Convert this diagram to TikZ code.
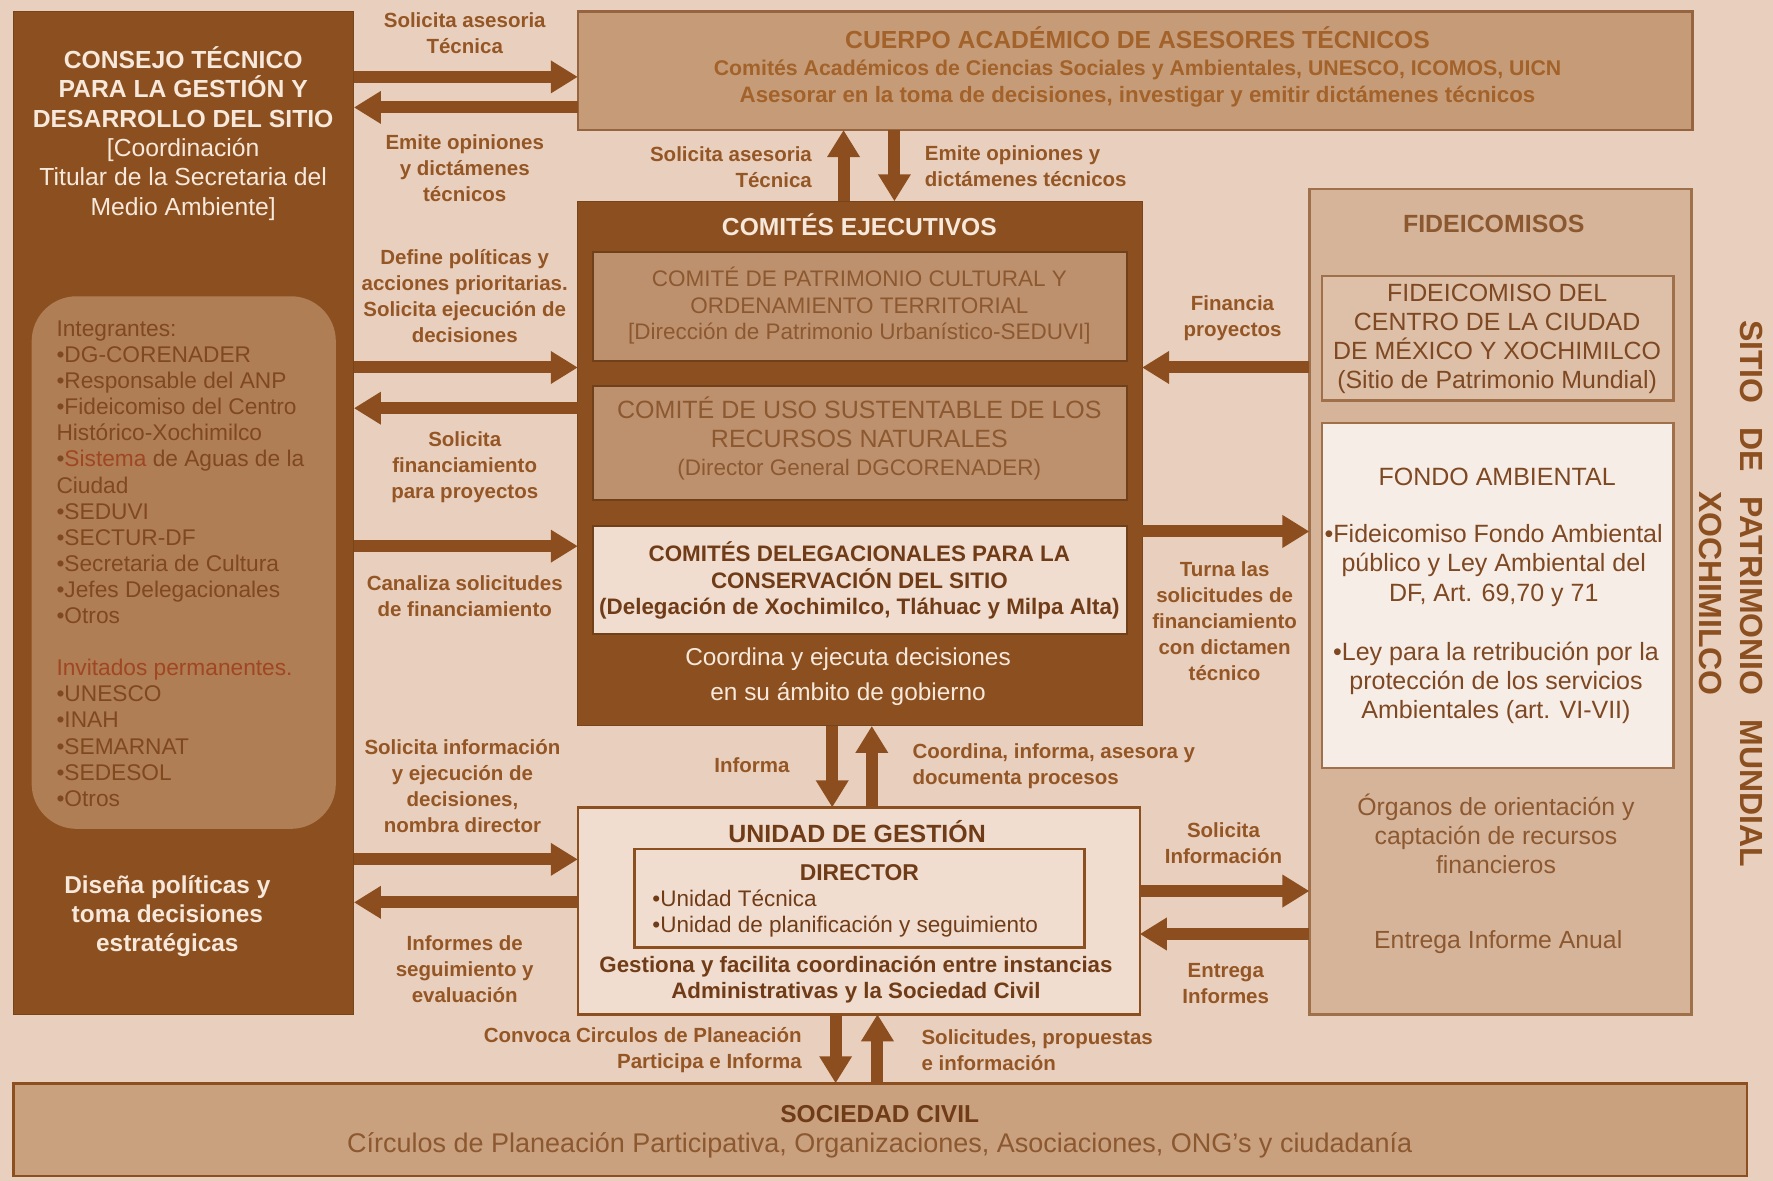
\documentclass[tikz,border=0pt]{standalone}
\usepackage{fontspec}
\setmainfont{Liberation Sans}
\usetikzlibrary{arrows.meta,fit}
\definecolor{bgc}{RGB}{233,207,190}
\definecolor{dark}{RGB}{140,80,32}
\definecolor{arrc}{RGB}{140,78,30}
\definecolor{intfill}{RGB}{176,126,84}
\definecolor{inttext}{RGB}{128,72,32}
\definecolor{intred}{RGB}{160,70,35}
\definecolor{cuerpofill}{RGB}{198,156,120}
\definecolor{cuerpoedge}{RGB}{150,100,62}
\definecolor{cuerpotext}{RGB}{163,98,42}
\definecolor{comfill}{RGB}{190,145,110}
\definecolor{comtext}{RGB}{140,88,48}
\definecolor{lightbox}{RGB}{240,221,207}
\definecolor{deltext}{RGB}{112,60,24}
\definecolor{whitet}{RGB}{246,232,218}
\definecolor{fidefill}{RGB}{214,180,154}
\definecolor{fideedge}{RGB}{160,112,74}
\definecolor{fideinner}{RGB}{222,192,168}
\definecolor{fondofill}{RGB}{247,237,231}
\definecolor{socfill}{RGB}{201,161,126}
\definecolor{labc}{RGB}{148,86,36}
\definecolor{fidetext}{RGB}{125,72,34}
\begin{document}
\begin{tikzpicture}[x=1.1307pt,y=-1.1307pt,
  every node/.style={inner sep=0pt, outer sep=0pt},
  panel/.style={inner sep=0pt, outer sep=0pt},
  lab/.style={text=labc, align=center, font=\fontsize{20.5}{26}\selectfont\bfseries},
  bigarrow/.style={draw=arrc, line width=12pt, -{Triangle[width=31pt,length=27pt]}},
]
\fill[bgc] (0,0) rectangle (1568,1044);
\useasboundingbox (0,0) rectangle (1568,1044);

% ---------- panels ----------
\node[panel, fill=dark, draw=dark!85!black, line width=1pt, fit={(12,10) (313,897)}] (consejo) {};
\node[panel, fill=intfill, rounded corners=45pt, fit={(28,262) (297,733)}] (integ) {};
\node[panel, fill=cuerpofill, draw=cuerpoedge, line width=2.5pt, fit={(511,10) (1497,115)}] (cuerpo) {};
\node[panel, fill=dark, draw=dark!85!black, line width=1pt, fit={(511,178) (1010,642)}] (comites) {};
\node[panel, fill=comfill, draw=dark!80!black, line width=2pt, fit={(524,223) (997,319)}] (com1) {};
\node[panel, fill=comfill, draw=dark!80!black, line width=2pt, fit={(524,341) (997,442)}] (com2) {};
\node[panel, fill=lightbox, draw=dark!80!black, line width=2pt, fit={(524,465) (997,561)}] (com3) {};
\node[panel, fill=lightbox, draw=dark, line width=2.5pt, fit={(511,714) (1008,897)}] (unidad) {};
\node[panel, draw=dark, line width=2.5pt, fit={(561,751) (959,838)}] (director) {};
\node[panel, fill=socfill, draw=dark, line width=2.5pt, fit={(12,958) (1545,1040)}] (sociedad) {};
\node[panel, fill=fidefill, draw=fideedge, line width=2.5pt, fit={(1158,167) (1496,897)}] (fide) {};
\node[panel, fill=fideinner, draw=fideedge, line width=2.5pt, fit={(1169,244) (1480,354)}] (fidecentro) {};
\node[panel, fill=fondofill, draw=fideedge, line width=2.5pt, fit={(1169,374) (1480,679)}] (fondo) {};

% ---------- texts ----------
\node[text=whitet, align=center, font=\fontsize{24.7}{29.4}\selectfont] (consejoT) at (162,118)
  {\textbf{CONSEJO TÉCNICO}\\\textbf{PARA LA GESTIÓN Y}\\\textbf{DESARROLLO DEL SITIO}\\{[}Coordinación\\Titular de la Secretaria del\\Medio Ambiente]};
\node[text=inttext, align=left, anchor=west, font=\fontsize{22.7}{26.1}\selectfont] (integT) at (50,498.5)
  {Integrantes:\\•DG-CORENADER\\•Responsable del ANP\\•Fideicomiso del Centro\\Histórico-Xochimilco\\•\textcolor{intred}{Sistema} de Aguas de la\\Ciudad\\•SEDUVI\\•SECTUR-DF\\•Secretaria de Cultura\\•Jefes Delegacionales\\•Otros\\[26.1pt]\textcolor{intred}{Invitados permanentes.}\\•UNESCO\\•INAH\\•SEMARNAT\\•SEDESOL\\•Otros};
\node[text=whitet, align=center, font=\fontsize{24.4}{28.8}\selectfont\bfseries] (disenaT) at (148,810)
  {Diseña políticas y\\toma decisiones\\estratégicas};

\node[text=cuerpotext, align=center, font=\fontsize{21.3}{27}\selectfont\bfseries] (cuerpoT) at (1006,59)
  {\fontsize{24.7}{27}\selectfont CUERPO ACADÉMICO DE ASESORES TÉCNICOS\\Comités Académicos de Ciencias Sociales y Ambientales, UNESCO, ICOMOS, UICN\\\fontsize{22.3}{27}\selectfont Asesorar en la toma de decisiones, investigar y emitir dictámenes técnicos};

\node[text=whitet, font=\fontsize{24.6}{27}\selectfont\bfseries] (comitesT) at (760,199) {COMITÉS EJECUTIVOS};
\node[text=comtext, align=center, font=\fontsize{22.5}{26.5}\selectfont] (com1T) at (760,270.5)
  {COMITÉ DE PATRIMONIO CULTURAL Y\\ORDENAMIENTO TERRITORIAL\\{[}Dirección de Patrimonio Urbanístico-SEDUVI]};
\node[text=comtext, align=center, font=\fontsize{25}{28.3}\selectfont] (com2T) at (760,388)
  {COMITÉ DE USO SUSTENTABLE DE LOS\\RECURSOS NATURALES\\{\fontsize{22.5}{28.3}\selectfont(Director General DGCORENADER)}};
\node[text=deltext, align=center, font=\fontsize{22.4}{26.5}\selectfont\bfseries] (com3T) at (760,513.5)
  {COMITÉS DELEGACIONALES PARA LA\\CONSERVACIÓN DEL SITIO\\(Delegación de Xochimilco, Tláhuac y Milpa Alta)};
\node[text=whitet, align=center, font=\fontsize{24.4}{35}\selectfont] (comitesB) at (750,598.5)
  {Coordina y ejecuta decisiones\\en su ámbito de gobierno};

\node[text=deltext, font=\fontsize{24.9}{26}\selectfont\bfseries] (unidadT) at (758,735) {UNIDAD DE GESTIÓN};
\node[text=deltext, font=\fontsize{22.9}{26}\selectfont\bfseries] (directorT) at (760,772) {DIRECTOR};
\node[text=deltext, align=left, anchor=west, font=\fontsize{22.5}{26}\selectfont] (directorL) at (577,807.5)
  {•Unidad Técnica\\•Unidad de planificación y seguimiento};
\node[text=deltext, align=center, font=\fontsize{22.3}{26}\selectfont\bfseries] (unidadB) at (757,866.5)
  {Gestiona y facilita coordinación entre instancias\\Administrativas y la Sociedad Civil};

\node[text=deltext, font=\fontsize{24.5}{26}\selectfont\bfseries] (socT) at (778,985) {SOCIEDAD CIVIL};
\node[text=comtext, font=\fontsize{27}{26}\selectfont] (socB) at (778,1013)
  {Círculos de Planeación Participativa, Organizaciones, Asociaciones, ONG's y ciudadanía};

\node[text=comtext, font=\fontsize{24.9}{26}\selectfont\bfseries] (fideT) at (1321,198) {FIDEICOMISOS};
\node[text=fidetext, align=center, font=\fontsize{24.9}{29}\selectfont] (fidecentroT) at (1324,299.5)
  {FIDEICOMISO DEL\\CENTRO DE LA CIUDAD\\DE MÉXICO Y XOCHIMILCO\\(Sitio de Patrimonio Mundial)};
\node[text=fidetext, font=\fontsize{25}{29}\selectfont] (fondoT) at (1324,422) {FONDO AMBIENTAL};
\node[text=fidetext, align=center, font=\fontsize{25}{29.4}\selectfont] (fondo1) at (1321,500)
  {•Fideicomiso Fondo Ambiental\\público y Ley Ambiental del\\DF, Art. 69,70 y 71};
\node[text=fidetext, align=center, font=\fontsize{25}{29.4}\selectfont] (fondo2) at (1323,604)
  {•Ley para la retribución por la\\protección de los servicios\\Ambientales (art. VI-VII)};
\node[text=comtext, align=center, font=\fontsize{24.8}{29}\selectfont] (organosT) at (1323,737.5)
  {Órganos de orientación y\\captación de recursos\\financieros};
\node[text=comtext, font=\fontsize{24.8}{29}\selectfont] (entregaT) at (1325,833) {Entrega Informe Anual};

\node[text=dark, rotate=-90, align=center, font=\fontsize{32}{40.7}\selectfont\bfseries] (sitioT) at (1531,525)
  {SITIO\hspace{24pt}DE\hspace{24pt}PATRIMONIO\hspace{24pt}MUNDIAL\\XOCHIMILCO};

% ---------- labels ----------
\node[lab] (l1) at (411,29) {Solicita asesoria\\Técnica};
\node[lab] (l2) at (411,149) {Emite opiniones\\y dictámenes\\técnicos};
\node[lab] (l3) at (411,261.5) {Define políticas y\\acciones prioritarias.\\Solicita ejecución de\\decisiones};
\node[lab] (l4) at (411,413) {Solicita\\financiamiento\\para proyectos};
\node[lab] (l5) at (411,527.5) {Canaliza solicitudes\\de financiamiento};
\node[lab] (l6) at (409,695.5) {Solicita información\\y ejecución de\\decisiones,\\nombra director};
\node[lab] (l7) at (411,857) {Informes de\\seguimiento y\\evaluación};
\node[lab, align=right, anchor=east] (l8) at (718,147.5) {Solicita asesoria\\Técnica};
\node[lab, align=left, anchor=west] (l9) at (818,147) {Emite opiniones y\\dictámenes técnicos};
\node[lab] (l10) at (665,677) {Informa};
\node[lab, align=left, anchor=west] (l11) at (807,677.5) {Coordina, informa, asesora y\\documenta procesos};
\node[lab, align=right, anchor=east] (l12) at (709,928.5) {Convoca Circulos de Planeación\\Participa e Informa};
\node[lab, align=left, anchor=west] (l13) at (815,928.5) {Solicitudes, propuestas\\e información};
\node[lab] (l14) at (1090,281) {Financia\\proyectos};
\node[lab] (l15) at (1083,549) {Turna las\\solicitudes de\\financiamiento\\con dictamen\\técnico};
\node[lab] (l16) at (1082,745.5) {Solicita\\Información};
\node[lab] (l17) at (1084,869.5) {Entrega\\Informes};

% ---------- arrow guide coordinates ----------
\coordinate (h68) at (0,68);
\coordinate (h95) at (0,95);
\coordinate (h325) at (0,325);
\coordinate (h361) at (0,361);
\coordinate (h483) at (0,483);
\coordinate (h470) at (0,470);
\coordinate (h760) at (0,760);
\coordinate (h798) at (0,798);
\coordinate (h788) at (0,788);
\coordinate (h826) at (0,826);
\coordinate (v746) at (746,0);
\coordinate (v791) at (791,0);
\coordinate (v736) at (736,0);
\coordinate (v771) at (771,0);
\coordinate (v739) at (739,0);
\coordinate (v776) at (776,0);

% ---------- arrows ----------
\draw[bigarrow] (consejo.east |- h68) -- (cuerpo.west |- h68);
\draw[bigarrow] (cuerpo.west |- h95) -- (consejo.east |- h95);
\draw[bigarrow] (comites.north -| v746) -- (cuerpo.south -| v746);
\draw[bigarrow] (cuerpo.south -| v791) -- (comites.north -| v791);
\draw[bigarrow] (consejo.east |- h325) -- (comites.west |- h325);
\draw[bigarrow] (comites.west |- h361) -- (consejo.east |- h361);
\draw[bigarrow] (consejo.east |- h483) -- (comites.west |- h483);
\draw[bigarrow] (fide.west |- h325) -- (comites.east |- h325);
\draw[bigarrow] (comites.east |- h470) -- (fide.west |- h470);
\draw[bigarrow] (comites.south -| v736) -- (unidad.north -| v736);
\draw[bigarrow] (unidad.north -| v771) -- (comites.south -| v771);
\draw[bigarrow] (consejo.east |- h760) -- (unidad.west |- h760);
\draw[bigarrow] (unidad.west |- h798) -- (consejo.east |- h798);
\draw[bigarrow] (unidad.east |- h788) -- (fide.west |- h788);
\draw[bigarrow] (fide.west |- h826) -- (unidad.east |- h826);
\draw[bigarrow] (unidad.south -| v739) -- (sociedad.north -| v739);
\draw[bigarrow] (sociedad.north -| v776) -- (unidad.south -| v776);
\end{tikzpicture}
\end{document}
